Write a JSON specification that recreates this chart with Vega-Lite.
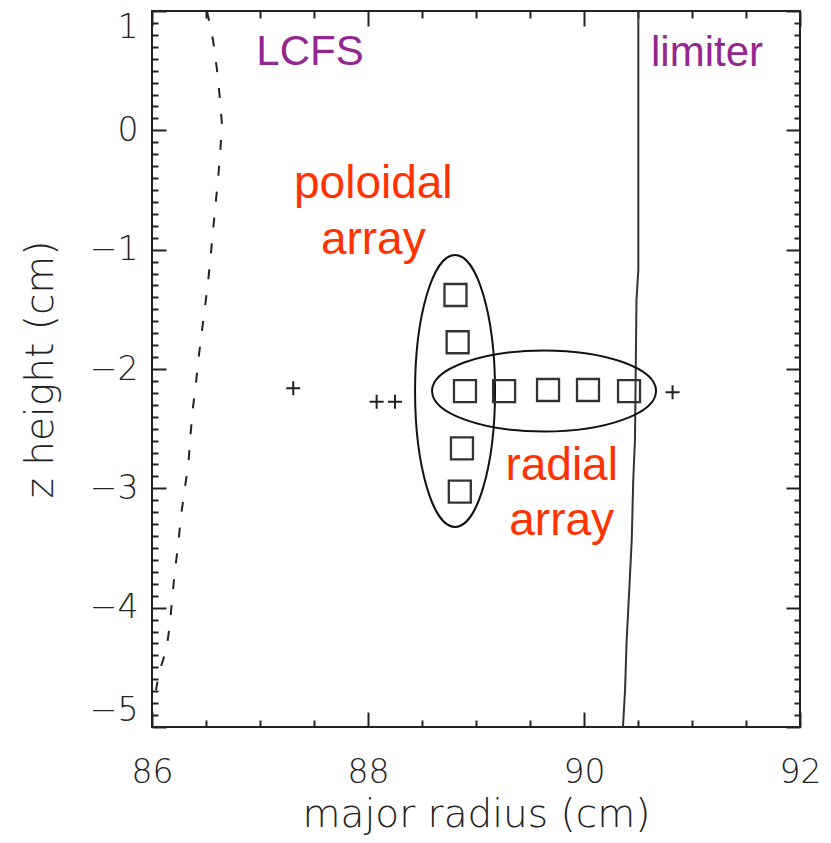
{
  "$schema": "https://vega.github.io/schema/vega-lite/v6.json",
  "width": 648,
  "height": 716,
  "autosize": {"type": "none"},
  "padding": {"left": 152, "top": 11, "right": 31, "bottom": 116},
  "background": "white",
  "config": {
    "view": {"stroke": "#222", "strokeWidth": 2},
    "axis": {
      "domain": false,
      "grid": false,
      "labelOverlap": false,
      "tickColor": "#222",
      "tickWidth": 2,
      "labelFont": "DejaVu Sans",
      "labelFontWeight": 200,
      "labelFontSize": 33,
      "labelColor": "#222",
      "titleFont": "DejaVu Sans",
      "titleFontWeight": 200,
      "titleFontSize": 39,
      "titleColor": "#222"
    }
  },
  "datasets": {
    "lcfs": [
      {"i": 0, "r": 86.509, "z": 1.0},
      {"i": 1, "r": 86.565, "z": 0.757},
      {"i": 2, "r": 86.602, "z": 0.506},
      {"i": 3, "r": 86.63, "z": 0.254},
      {"i": 4, "r": 86.648, "z": 0.045},
      {"i": 5, "r": 86.63, "z": -0.207},
      {"i": 6, "r": 86.611, "z": -0.416},
      {"i": 7, "r": 86.583, "z": -0.668},
      {"i": 8, "r": 86.544, "z": -1.045},
      {"i": 9, "r": 86.521, "z": -1.254},
      {"i": 10, "r": 86.491, "z": -1.478},
      {"i": 11, "r": 86.46, "z": -1.698},
      {"i": 12, "r": 86.429, "z": -1.925},
      {"i": 13, "r": 86.405, "z": -2.134},
      {"i": 14, "r": 86.373, "z": -2.369},
      {"i": 15, "r": 86.352, "z": -2.609},
      {"i": 16, "r": 86.336, "z": -2.805},
      {"i": 17, "r": 86.299, "z": -3.028},
      {"i": 18, "r": 86.266, "z": -3.249},
      {"i": 19, "r": 86.244, "z": -3.458},
      {"i": 20, "r": 86.213, "z": -3.685},
      {"i": 21, "r": 86.188, "z": -3.908},
      {"i": 22, "r": 86.167, "z": -4.129},
      {"i": 23, "r": 86.136, "z": -4.338},
      {"i": 24, "r": 86.065, "z": -4.548},
      {"i": 25, "r": 86.037, "z": -4.69}
    ],
    "limiter": [
      {"i": 0, "r": 90.503, "z": 1.0},
      {"i": 1, "r": 90.503, "z": -1.17},
      {"i": 2, "r": 90.486, "z": -1.422},
      {"i": 3, "r": 90.472, "z": -2.595},
      {"i": 4, "r": 90.456, "z": -2.93},
      {"i": 5, "r": 90.442, "z": -3.433},
      {"i": 6, "r": 90.419, "z": -3.852},
      {"i": 7, "r": 90.395, "z": -4.271},
      {"i": 8, "r": 90.38, "z": -4.69},
      {"i": 9, "r": 90.361, "z": -5.0}
    ],
    "probes": [
      {"array": "radial", "r": 88.898, "z": -2.185},
      {"array": "radial", "r": 89.26, "z": -2.185},
      {"array": "radial", "r": 89.667, "z": -2.176},
      {"array": "radial", "r": 90.037, "z": -2.176},
      {"array": "radial", "r": 90.417, "z": -2.185},
      {"array": "poloidal", "r": 88.81, "z": -1.38},
      {"array": "poloidal", "r": 88.83, "z": -1.776},
      {"array": "poloidal", "r": 88.87, "z": -2.665},
      {"array": "poloidal", "r": 88.85, "z": -3.028}
    ],
    "crosses": [
      {"r": 87.308, "z": -2.162},
      {"r": 88.08, "z": -2.274},
      {"r": 88.25, "z": -2.274},
      {"r": 90.82, "z": -2.195}
    ],
    "groups": [
      {"name": "poloidal", "r": 88.806, "z": -2.184},
      {"name": "radial", "r": 89.63, "z": -2.184}
    ],
    "notes": [
      {"text": "LCFS", "kind": "boundary", "r": 87.463, "z": 0.547},
      {"text": "limiter", "kind": "boundary", "r": 91.139, "z": 0.542},
      {"text": "poloidal", "kind": "array", "r": 88.049, "z": -0.57},
      {"text": "array", "kind": "array", "r": 88.049, "z": -1.036},
      {"text": "radial", "kind": "array", "r": 89.793, "z": -2.93},
      {"text": "array", "kind": "array", "r": 89.793, "z": -3.391}
    ]
  },
  "resolve": {"axis": {"x": "independent", "y": "independent"}},
  "layer": [
    {
      "data": {"name": "lcfs"},
      "mark": {"type": "line", "stroke": "#222", "strokeWidth": 2, "strokeDash": [10, 16]},
      "encoding": {
        "x": {
          "field": "r", "type": "quantitative",
          "scale": {"domain": [86, 92], "nice": false, "zero": false},
          "axis": {
            "orient": "bottom",
            "title": "major radius (cm)",
            "values": [86, 86.5, 87, 87.5, 88, 88.5, 89, 89.5, 90, 90.5, 91, 91.5, 92],
            "labelExpr": "datum.value % 2 === 0 ? format(datum.value, 'd') : ''",
            "tickSize": {"condition": {"test": "datum.value % 2 === 0", "value": -15}, "value": -7},
            "labelPadding": 44,
            "labelBaseline": "top",
            "labelFlush": false,
            "labelOverlap": false,
            "titleX": 324,
            "titleY": 99,
            "titleAlign": "center",
            "titleBaseline": "alphabetic"
          }
        },
        "y": {
          "field": "z", "type": "quantitative",
          "scale": {"domain": [-5, 1], "nice": false, "zero": false},
          "axis": {
            "orient": "left",
            "title": "z height (cm)",
            "values": [-5, -4.9, -4.8, -4.7, -4.6, -4.5, -4.4, -4.3, -4.2, -4.1, -4, -3.9, -3.8, -3.7, -3.6, -3.5, -3.4, -3.3, -3.2, -3.1, -3, -2.9, -2.8, -2.7, -2.6, -2.5, -2.4, -2.3, -2.2, -2.1, -2, -1.9, -1.8, -1.7, -1.6, -1.5, -1.4, -1.3, -1.2, -1.1, -1, -0.9, -0.8, -0.7, -0.6, -0.5, -0.4, -0.3, -0.2, -0.1, 0, 0.1, 0.2, 0.3, 0.4, 0.5, 0.6, 0.7, 0.8, 0.9, 1],
            "tickCount": 200,
            "labelExpr": "abs(datum.value - round(datum.value)) < 0.001 ? format(round(datum.value), 'd') : ''",
            "tickSize": {"condition": {"test": "abs(datum.value - round(datum.value)) < 0.001", "value": -14}, "value": -6},
            "labelPadding": 28,
            "labelFlush": true,
            "labelOverlap": false,
            "titleX": -100,
            "titleY": 358,
            "titleAlign": "center",
            "titleBaseline": "alphabetic"
          }
        },
        "order": {"field": "i", "type": "quantitative"}
      }
    },
    {
      "data": {"name": "limiter"},
      "mark": {"type": "line", "stroke": "#333", "strokeWidth": 2},
      "encoding": {
        "x": {
          "field": "r", "type": "quantitative",
          "scale": {"domain": [86, 92], "nice": false, "zero": false},
          "axis": {
            "orient": "top",
            "title": null,
            "labels": false,
            "values": [86, 86.5, 87, 87.5, 88, 88.5, 89, 89.5, 90, 90.5, 91, 91.5, 92],
            "tickSize": {"condition": {"test": "datum.value % 2 === 0", "value": -15}, "value": -7}
          }
        },
        "y": {
          "field": "z", "type": "quantitative",
          "scale": {"domain": [-5, 1], "nice": false, "zero": false},
          "axis": {
            "orient": "right",
            "title": null,
            "labels": false,
            "values": [-5, -4.9, -4.8, -4.7, -4.6, -4.5, -4.4, -4.3, -4.2, -4.1, -4, -3.9, -3.8, -3.7, -3.6, -3.5, -3.4, -3.3, -3.2, -3.1, -3, -2.9, -2.8, -2.7, -2.6, -2.5, -2.4, -2.3, -2.2, -2.1, -2, -1.9, -1.8, -1.7, -1.6, -1.5, -1.4, -1.3, -1.2, -1.1, -1, -0.9, -0.8, -0.7, -0.6, -0.5, -0.4, -0.3, -0.2, -0.1, 0, 0.1, 0.2, 0.3, 0.4, 0.5, 0.6, 0.7, 0.8, 0.9, 1],
            "tickSize": {"condition": {"test": "abs(datum.value - round(datum.value)) < 0.001", "value": -14}, "value": -6}
          }
        },
        "order": {"field": "i", "type": "quantitative"}
      }
    },
    {
      "data": {"name": "groups"},
      "transform": [{"filter": "datum.name === 'poloidal'"}],
      "mark": {
        "type": "point", "filled": false, "stroke": "#111", "strokeWidth": 2, "opacity": 1,
        "shape": "M0.294,0C0.294,0.552 0.162,1 0,1C-0.162,1 -0.294,0.552 -0.294,0C-0.294,-0.552 -0.162,-1 0,-1C0.162,-1 0.294,-0.552 0.294,0Z",
        "size": 73984
      },
      "encoding": {
        "x": {"field": "r", "type": "quantitative", "axis": null},
        "y": {"field": "z", "type": "quantitative", "axis": null}
      }
    },
    {
      "data": {"name": "groups"},
      "transform": [{"filter": "datum.name === 'radial'"}],
      "mark": {
        "type": "point", "filled": false, "stroke": "#111", "strokeWidth": 2, "opacity": 1,
        "shape": "M1,0C1,0.2 0.552,0.362 0,0.362C-0.552,0.362 -1,0.2 -1,0C-1,-0.2 -0.552,-0.362 0,-0.362C0.552,-0.362 1,-0.2 1,0Z",
        "size": 50176
      },
      "encoding": {
        "x": {"field": "r", "type": "quantitative", "axis": null},
        "y": {"field": "z", "type": "quantitative", "axis": null}
      }
    },
    {
      "data": {"name": "probes"},
      "mark": {"type": "point", "shape": "square", "filled": false, "stroke": "#333", "strokeWidth": 2.3, "opacity": 1, "size": 484},
      "encoding": {
        "x": {"field": "r", "type": "quantitative", "axis": null},
        "y": {"field": "z", "type": "quantitative", "axis": null}
      }
    },
    {
      "data": {"name": "crosses"},
      "mark": {"type": "point", "shape": "M-1,0H1M0,-1V1", "filled": false, "stroke": "#222", "strokeWidth": 2, "opacity": 1, "size": 196},
      "encoding": {
        "x": {"field": "r", "type": "quantitative", "axis": null},
        "y": {"field": "z", "type": "quantitative", "axis": null}
      }
    },
    {
      "data": {"name": "notes"},
      "transform": [{"filter": "datum.kind === 'boundary'"}],
      "mark": {"type": "text", "font": "Liberation Sans", "fontSize": 42, "align": "center", "baseline": "alphabetic", "color": "#93278f"},
      "encoding": {
        "x": {"field": "r", "type": "quantitative", "axis": null},
        "y": {"field": "z", "type": "quantitative", "axis": null},
        "text": {"field": "text"}
      }
    },
    {
      "data": {"name": "notes"},
      "transform": [{"filter": "datum.kind === 'array'"}],
      "mark": {"type": "text", "font": "Liberation Sans", "fontSize": 46, "align": "center", "baseline": "alphabetic", "color": "#ff3300"},
      "encoding": {
        "x": {"field": "r", "type": "quantitative", "axis": null},
        "y": {"field": "z", "type": "quantitative", "axis": null},
        "text": {"field": "text"}
      }
    }
  ]
}
